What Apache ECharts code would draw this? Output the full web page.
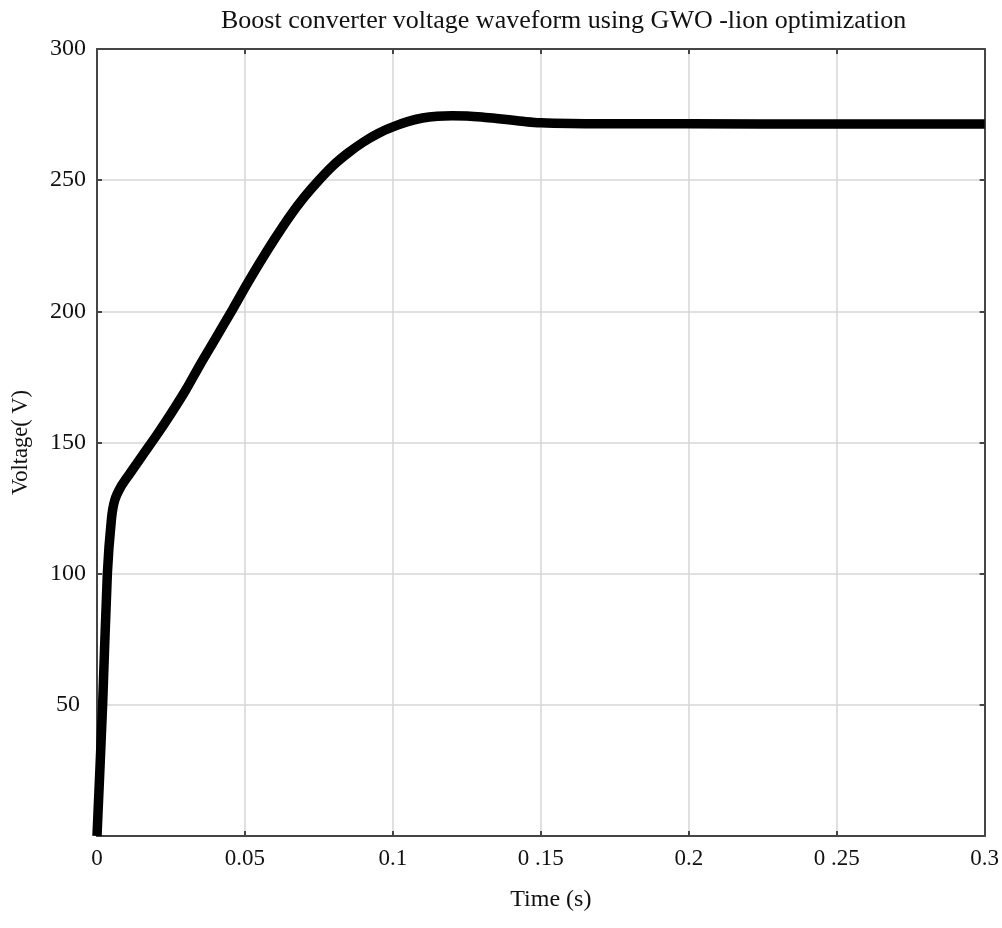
<!DOCTYPE html>
<html>
<head>
<meta charset="utf-8">
<script src="https://cdn.jsdelivr.net/npm/echarts@6/dist/echarts.min.js"></script>
<style>html,body{margin:0;padding:0;background:#fff;}#main{width:1002px;height:928px;}</style>
</head>
<body>
<div id="main"></div>
<script>
var titleText = 'Boost converter voltage waveform using GWO -lion optimization';
var xAxisName = 'Time (s)';
var yAxisName = 'Voltage( V)';
var xTickLabels = ['0', '0.05', '0.1', '0 .15', '0.2', '0 .25', '0.3'];
var yTickLabels = ['', '50', '100', '150', '200', '250', '300'];
var timeVals = [0, 0.0019, 0.0035, 0.0049, 0.006, 0.008, 0.011, 0.015, 0.02, 0.025, 0.03, 0.035, 0.04, 0.0457, 0.05, 0.055, 0.06, 0.065, 0.07, 0.075, 0.08, 0.085, 0.09, 0.095, 0.1, 0.105, 0.11, 0.115, 0.12, 0.125, 0.13, 0.135, 0.14, 0.145, 0.15, 0.16, 0.17, 0.2, 0.25, 0.3];
var voltVals = [0, 50, 100, 121, 128, 133, 138, 144.5, 152.5, 161, 170, 180, 189.5, 200.5, 209, 218.5, 227.5, 236, 243.5, 250, 255.8, 260.5, 264.5, 267.8, 270.3, 272.3, 273.7, 274.4, 274.6, 274.5, 274.1, 273.5, 272.9, 272.3, 271.9, 271.6, 271.5, 271.5, 271.4, 271.4];

var seriesData = timeVals.map(function (t, i) { return [t, voltVals[i]]; });
var FONT = '"Liberation Serif", "DejaVu Serif", serif';

var chart = echarts.init(document.getElementById('main'), null, {renderer: 'canvas'});
var gridLine = {show: true, lineStyle: {color: '#d6d6d6', width: 1.5}};
var frameLine = {show: true, onZero: false, lineStyle: {color: '#454545', width: 2}};
var inTick = {show: true, inside: true, length: 5, lineStyle: {color: '#454545', width: 2}};
chart.setOption({
  animation: false,
  backgroundColor: '#fff',
  title: {
    text: titleText,
    left: 216,
    top: 3,
    textStyle: {fontFamily: FONT, fontSize: 26, fontWeight: 'normal', color: '#111'}
  },
  grid: {left: 97, right: 13, top: 49, bottom: 92, containLabel: false},
  xAxis: [{
    type: 'value', min: 0, max: 0.3, interval: 0.05, position: 'bottom',
    name: xAxisName, nameLocation: 'middle', nameGap: 52,
    nameTextStyle: {fontFamily: FONT, fontSize: 24, color: '#111', padding: [0, 0, 0, 20]},
    axisLine: frameLine, axisTick: inTick, splitLine: gridLine,
    axisLabel: {fontFamily: FONT, fontSize: 23, color: '#111', margin: 11,
      formatter: function (v, i) { return xTickLabels[Math.round(v / 0.05)]; }}
  }, {
    type: 'value', min: 0, max: 0.3, interval: 0.05, position: 'top',
    axisLine: frameLine, axisTick: inTick, splitLine: {show: false}, axisLabel: {show: false}
  }],
  yAxis: [{
    type: 'value', min: 0, max: 300, interval: 50, position: 'left',
    name: yAxisName, nameLocation: 'middle', nameGap: 64,
    nameTextStyle: {fontFamily: FONT, fontSize: 22.5, color: '#111'},
    axisLine: frameLine, axisTick: inTick, splitLine: gridLine,
    axisLabel: {fontFamily: FONT, fontSize: 24, color: '#111', margin: 29, align: 'center',
      formatter: function (v) { return yTickLabels[Math.round(v / 50)]; }}
  }, {
    type: 'value', min: 0, max: 300, interval: 50, position: 'right',
    axisLine: frameLine, axisTick: inTick, splitLine: {show: false}, axisLabel: {show: false}
  }],
  series: [{
    type: 'line',
    data: seriesData,
    xAxisIndex: 0, yAxisIndex: 0,
    showSymbol: false, symbol: 'none',
    smooth: 0.25,
    lineStyle: {color: '#000', width: 9.5, cap: 'butt', join: 'round'},
    z: 5
  }]
});
</script>
</body>
</html>
